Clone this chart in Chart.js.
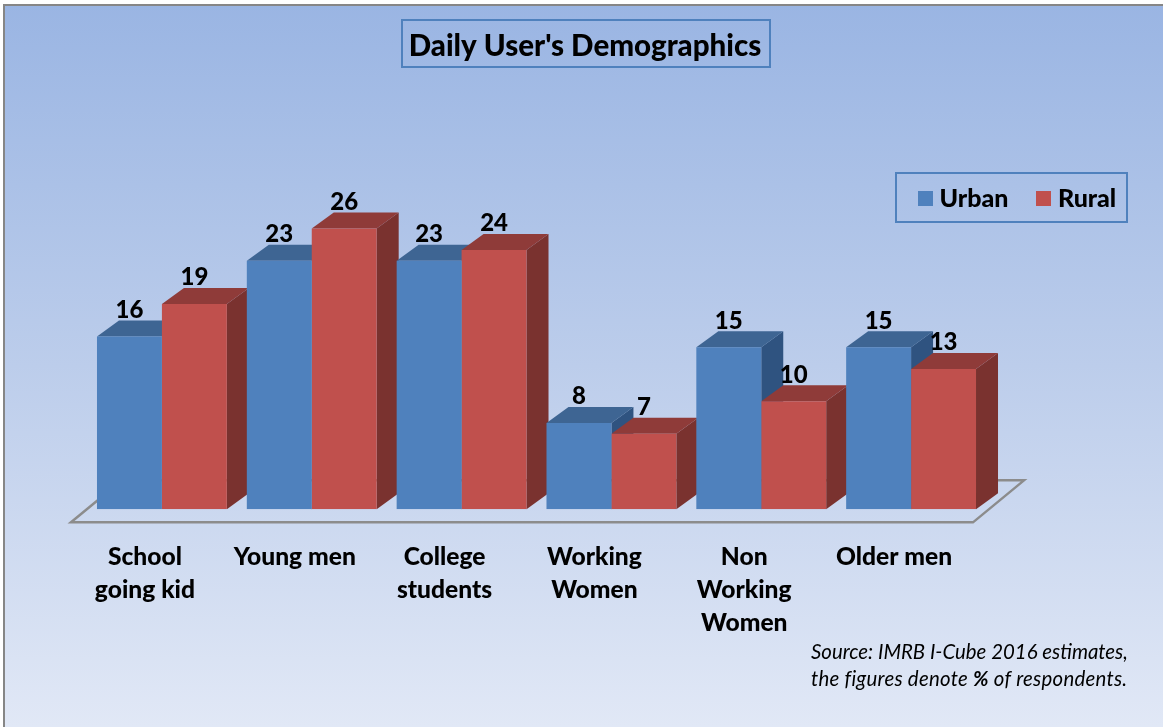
<!DOCTYPE html>
<html><head><meta charset="utf-8">
<style>html,body{margin:0;padding:0;background:#fff}canvas{display:block}</style>
<script src="https://cdn.jsdelivr.net/npm/chart.js@4"></script>
</head><body><canvas id="c" width="1163" height="727"></canvas>
<script>
const categories = [["School","going kid"],"Young men",["College","students"],["Working","Women"],["Non","Working","Women"],"Older men"];
const urban = [16,23,23,8,15,15];
const rural = [19,26,24,7,10,13];
const seriesNames = ["Urban","Rural"];
const frontColors = ["#4f81bd","#c0504d"];
const topColors = ["#3e6593","#8f3b39"];
const sideColors = ["#2f5380","#7a322f"];
const titleText = "Daily User's Demographics";
const sourceLines = [[["Source: IMRB I-Cube 2016 estimates,",false]],[["the figures denote ",false],["%",true],[" of respondents.",false]]];
const FONT = "Lato, Carlito, 'Open Sans', sans-serif";
const DX = 22, DY = 16;

function square(color){const s=document.createElement('canvas');s.width=15;s.height=15;const g=s.getContext('2d');g.fillStyle=color;g.fillRect(0,0,15,15);return s;}

function poly(ctx,pts,fill){ctx.fillStyle=fill;ctx.beginPath();pts.forEach((p,i)=>i?ctx.lineTo(p[0],p[1]):ctx.moveTo(p[0],p[1]));ctx.closePath();ctx.fill();}

const scene = {
  id:'scene',
  afterLayout(chart){
    const t=chart.titleBlock; t.left+=48.5; t.right+=48.5;
    const l=chart.legend; const h=l.height; l.left=890; l.right=1400; l.top=153; l.bottom=153+h;
  },
  beforeDraw(chart){
    const ctx=chart.ctx;
    ctx.save();
    const g=ctx.createLinearGradient(0,4,0,727);
    g.addColorStop(0,'#9ab5e3');g.addColorStop(0.5,'#bccdeb');g.addColorStop(1,'#e1e8f6');
    ctx.fillStyle=g;ctx.fillRect(3,4,1160,723);
    ctx.fillStyle='#868686';ctx.fillRect(3,4,1160,2);ctx.fillRect(3,4,2,723);
    ctx.restore();
  },
  beforeDatasetsDraw(chart){
    const ctx=chart.ctx,a=chart.chartArea;
    ctx.save();
    ctx.strokeStyle='#4f81bd';ctx.lineWidth=2;
    ctx.strokeRect(402,20,368,47);
    ctx.strokeRect(896,173,231,49);
    // floor
    ctx.strokeStyle='#8c8c8c';ctx.lineWidth=2.5;ctx.lineJoin='miter';
    const b=a.bottom+13;
    ctx.beginPath();ctx.moveTo(a.left-16,b);ctx.lineTo(a.right-13,b);ctx.lineTo(a.right+38,b-42);ctx.lineTo(a.left+35,b-42);ctx.closePath();ctx.stroke();
    // depth faces, left to right, blue before red
    const metas=[chart.getDatasetMeta(0),chart.getDatasetMeta(1)];
    categories.forEach((_,i)=>{
      metas.forEach((m,k)=>{
        const e=m.data[i];const L=e.x-e.width/2,R=e.x+e.width/2,T=e.y,B=e.base;
        poly(ctx,[[R,T],[R+DX,T-DY],[R+DX,B-DY],[R,B]],sideColors[k]);
        poly(ctx,[[L,T],[L+DX,T-DY],[R+DX,T-DY],[R,T]],topColors[k]);
      });
    });
    ctx.restore();
  },
  afterDatasetsDraw(chart){
    const ctx=chart.ctx;
    ctx.save();
    ctx.fillStyle='#000';ctx.textAlign='center';ctx.textBaseline='middle';ctx.font='900 24px '+FONT;
    chart.data.datasets.forEach((ds,k)=>{
      chart.getDatasetMeta(k).data.forEach((e,i)=>ctx.fillText(String(ds.data[i]),e.x,e.y-26.5));
    });
    ctx.textAlign='left';ctx.textBaseline='alphabetic';
    sourceLines.forEach((line,n)=>{
      let x=811;const y=659+n*27;
      ctx.letterSpacing=n?'0.26px':'0px';
      line.forEach(([s,bold])=>{
        ctx.font=(bold?'italic bold':'italic')+' 20.4px '+FONT;
        ctx.fillText(s,x,y);x+=ctx.measureText(s).width;
      });
    });
    ctx.restore();
  }
};

new Chart(document.getElementById('c'),{
  type:'bar',
  data:{labels:categories,datasets:[
    {label:seriesNames[0],data:urban,backgroundColor:frontColors[0],borderWidth:0},
    {label:seriesNames[1],data:rural,backgroundColor:frontColors[1],borderWidth:0}
  ]},
  plugins:[scene],
  options:{
    responsive:false,animation:false,
    layout:{padding:{left:87,right:177,top:0,bottom:64}},
    datasets:{bar:{categoryPercentage:0.8667,barPercentage:1}},
    scales:{
      x:{grid:{display:false},border:{display:false},
         ticks:{color:'#000',font:{family:FONT,size:24.6,weight:'900',lineHeight:1.35},labelOffset:-17,padding:23,autoSkip:false,maxRotation:0,minRotation:0}},
      y:{display:false,min:0,max:30}
    },
    plugins:{
      tooltip:{enabled:false},
      title:{display:true,text:titleText,color:'#000',align:'center',font:{family:FONT,size:29.5,weight:'900',lineHeight:1.2},padding:{top:28.6,bottom:53.2}},
      legend:{display:true,position:'top',align:'start',
        labels:{color:'#000',font:{family:FONT,size:25,weight:'900'},padding:33,usePointStyle:true,pointStyleWidth:4,boxHeight:15,
          generateLabels(chart){return chart.data.datasets.map((d,i)=>({text:d.label,fontColor:'#000',pointStyle:square(frontColors[i]),datasetIndex:i,lineWidth:0,strokeStyle:'transparent',fillStyle:frontColors[i]}));}}}
    }
  }
});
</script></body></html>
